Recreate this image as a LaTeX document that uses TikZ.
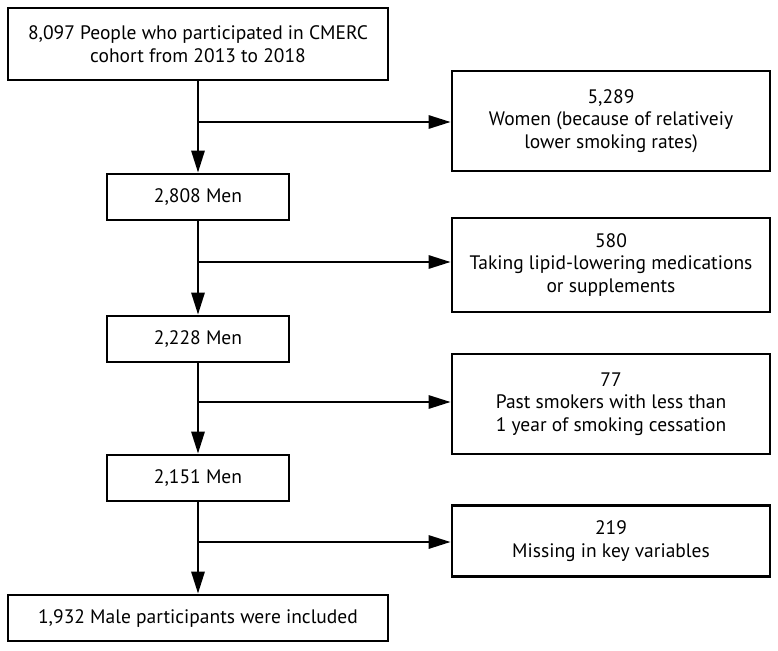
\documentclass[tikz,border=0pt]{standalone}
\usepackage{fontspec}
\setmainfont{PT Sans}
\usetikzlibrary{arrows.meta}

\begin{document}
\begin{tikzpicture}
		[x=1pt,y=-1pt,
		box/.style={draw,line width=2.6pt,align=center,inner sep=0pt,font=\fontsize{19.5}{22.5}\selectfont},
		arr/.style={line width=2.8pt,-{Triangle[length=22pt,width=13pt]}}]
		\useasboundingbox (0,0) rectangle (778,650);

		% main column
		\node[box,minimum width=380pt,minimum height=72pt] (all) at (198,44) {8,097 People who participated in CMERC\\cohort from 2013 to 2018};
		\node[box,minimum width=182pt,minimum height=46pt] (men1) at (198,197) {2,808 Men};
		\node[box,minimum width=182pt,minimum height=46pt] (men2) at (198,339) {2,228 Men};
		\node[box,minimum width=182pt,minimum height=46pt] (men3) at (198,478) {2,151 Men};
		\node[box,minimum width=380pt,minimum height=46pt] (final) at (198,618) {1,932 Male participants were included};

		% excluded
		\node[box,minimum width=318pt,minimum height=100pt] (ex1) at (611,121) {5,289\\Women (because of relativeiy\\lower smoking rates)};
		\node[box,minimum width=318pt,minimum height=94pt] (ex2) at (611,265) {580\\Taking lipid-lowering medications\\or supplements};
		\node[box,minimum width=318pt,minimum height=100pt] (ex3) at (611,404) {77\\Past smokers with less than\\1 year of smoking cessation};
		\node[box,minimum width=318pt,minimum height=71pt] (ex4) at (611,541) {219\\Missing in key variables};

		\coordinate (b1) at (198,122);
		\coordinate (b2) at (198,262);
		\coordinate (b3) at (198,402);
		\coordinate (b4) at (198,542);

		\draw[arr] (all) -- (men1);
		\draw[arr] (men1) -- (men2);
		\draw[arr] (men2) -- (men3);
		\draw[arr] (men3) -- (final);

		\draw[arr] (b1) -- (b1 -| ex1.west);
		\draw[arr] (b2) -- (b2 -| ex2.west);
		\draw[arr] (b3) -- (b3 -| ex3.west);
		\draw[arr] (b4) -- (b4 -| ex4.west);

	\end{tikzpicture}
\end{document}
